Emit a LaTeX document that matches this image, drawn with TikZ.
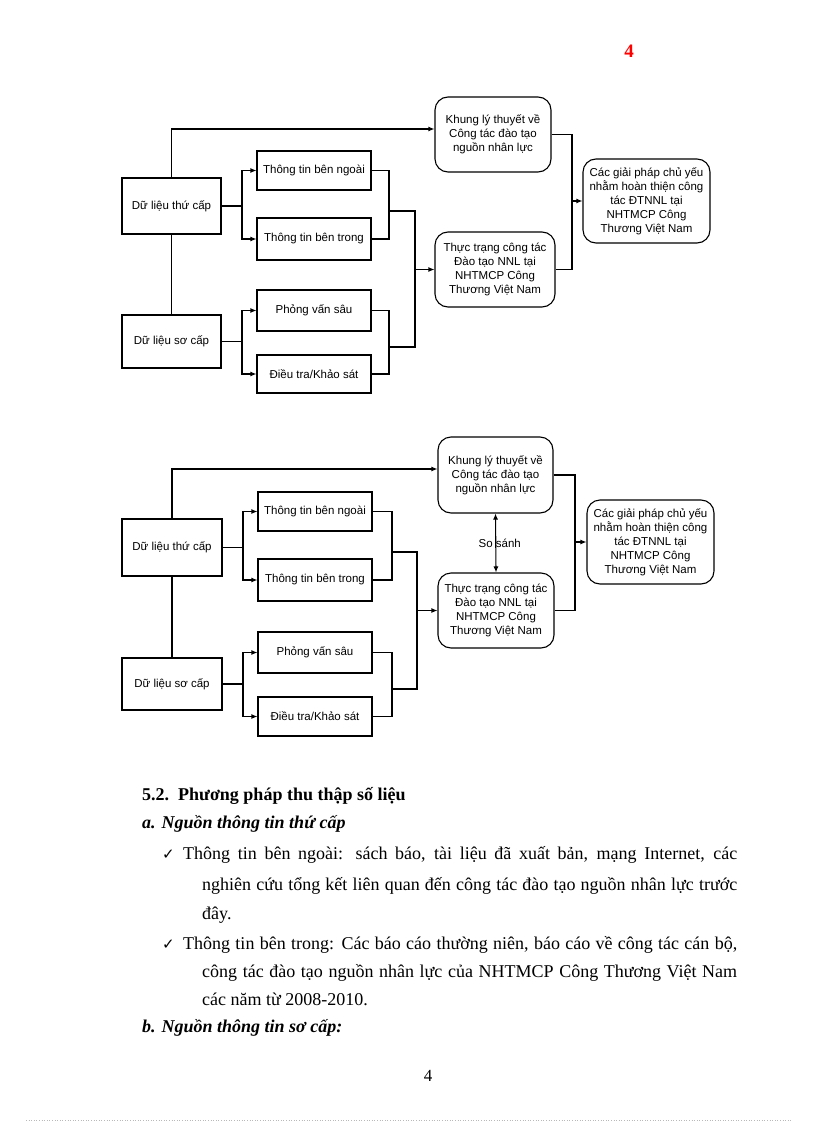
\documentclass[tikz,border=0pt]{standalone}
\usepackage{fontspec}
\setmainfont{Liberation Serif}
\newfontfamily\diagfont{Liberation Sans}
\newfontfamily\tickfont{DejaVu Sans}
\usetikzlibrary{arrows.meta}

\begin{document}
\begin{tikzpicture}[x=1pt,y=-1pt,
  box/.style={draw=black, line width=1.1pt, inner sep=0pt, align=center,
              font=\diagfont\fontsize{11.5}{14}\selectfont},
  rbox/.style={box, rounded corners=13pt},
  link/.style={line width=1.1pt},
  arr/.style={-{Latex[length=6pt,width=5pt]}},
  dbl/.style={{Latex[length=6pt,width=5pt]}-{Latex[length=6pt,width=5pt]}},
  body/.style={anchor=base west, inner sep=0pt, font=\fontsize{18}{22}\selectfont},
  head/.style={body, font=\bfseries\fontsize{18}{22}\selectfont},
  sub/.style={body, font=\bfseries\itshape\fontsize{18}{22}\selectfont},
  tick/.style={body, font=\tickfont\fontsize{15}{18}\selectfont}]

  \fill[white] (0,0) rectangle (816,1123);
  \useasboundingbox (0,0) rectangle (816,1123);

  % page number (red)
  \node[font=\bfseries\fontsize{19}{22}\selectfont, text=red] (numtop) at (629,51) {4};

  % first diagram
  \begin{scope}
  \node[box, minimum width=99pt, minimum height=56pt] (dltcA) at (171.5,206) {Dữ liệu thứ cấp};
  \node[box, minimum width=99pt, minimum height=53pt] (dlscA) at (171.5,341.5) {Dữ liệu sơ cấp};
  \node[box, minimum width=114pt, minimum height=39pt] (ttnA) at (314,170.5) {Thông tin bên ngoài};
  \node[box, minimum width=114pt, minimum height=42pt] (tttA) at (314,239) {Thông tin bên trong};
  \node[box, minimum width=114pt, minimum height=41pt] (pvsA) at (314,310.5) {Phỏng vấn sâu};
  \node[box, minimum width=114pt, minimum height=38pt] (dtksA) at (314,374) {Điều tra/Khảo sát};
  \node[rbox, minimum width=116pt, minimum height=75pt] (khungA) at (493,134.5)
        {Khung lý thuyết về\\Công tác đào tạo\\nguồn nhân lực};
  \node[rbox, minimum width=120pt, minimum height=75pt] (thuctrangA) at (495,269.5)
        {Thực trạng công tác\\Đào tạo NNL tại\\NHTMCP Công\\Thương Việt Nam};
  \node[rbox, minimum width=127pt, minimum height=84pt] (giaiphapA) at (646.5,201)
        {Các giải pháp chủ yếu\\nhằm hoàn thiện công\\tác ĐTNNL tại\\NHTMCP Công\\Thương Việt Nam};

  \coordinate (brA1) at (242,206);
  \coordinate (brA2) at (242,341.5);
  \coordinate (jA1) at (389,211);
  \coordinate (jA2) at (389,347);
  \coordinate (busA) at (415,269.5);
  \coordinate (outA) at (572,201);

  \draw[link, arr] (dltcA.north) |- ([yshift=5.5pt]khungA.west);
  \draw[link] (dltcA.south) -- (dlscA.north);
  \draw[link] (dltcA.east) -- (brA1);
  \draw[link, arr] (brA1) |- (ttnA.west);
  \draw[link, arr] (brA1) |- (tttA.west);
  \draw[link] (dlscA.east) -- (brA2);
  \draw[link, arr] (brA2) |- (pvsA.west);
  \draw[link, arr] (brA2) |- (dtksA.west);
  \draw[link] (ttnA.east) -| (jA1) |- (tttA.east);
  \draw[link] (pvsA.east) -| (jA2) |- (dtksA.east);
  \draw[link] (jA1) -| (busA) |- (jA2);
  \draw[link, arr] (busA) -- (thuctrangA.west);
  \draw[link] (khungA.east) -| (outA) |- (thuctrangA.east);
  \draw[link, arr] (outA) -- (giaiphapA.west);
  \end{scope}

  % second diagram
  \begin{scope}
  \node[box, minimum width=100pt, minimum height=57pt] (dltcB) at (172,547.5) {Dữ liệu thứ cấp};
  \node[box, minimum width=100pt, minimum height=52pt] (dlscB) at (172,684) {Dữ liệu sơ cấp};
  \node[box, minimum width=114pt, minimum height=39pt] (ttnB) at (315,511.5) {Thông tin bên ngoài};
  \node[box, minimum width=114pt, minimum height=42pt] (tttB) at (315,580) {Thông tin bên trong};
  \node[box, minimum width=114pt, minimum height=41pt] (pvsB) at (315,652.5) {Phỏng vấn sâu};
  \node[box, minimum width=114pt, minimum height=39pt] (dtksB) at (315,716.5) {Điều tra/Khảo sát};
  \node[rbox, minimum width=115pt, minimum height=76pt] (khungB) at (495.5,475)
        {Khung lý thuyết về\\Công tác đào tạo\\nguồn nhân lực};
  \node[rbox, minimum width=116pt, minimum height=75pt] (thuctrangB) at (496,610.5)
        {Thực trạng công tác\\Đào tạo NNL tại\\NHTMCP Công\\Thương Việt Nam};
  \node[rbox, minimum width=127pt, minimum height=84pt] (giaiphapB) at (650.5,542)
        {Các giải pháp chủ yếu\\nhằm hoàn thiện công\\tác ĐTNNL tại\\NHTMCP Công\\Thương Việt Nam};

  \coordinate (brB1) at (243,547.5);
  \coordinate (brB2) at (243,684);
  \coordinate (jB1) at (392,552);
  \coordinate (jB2) at (392,689);
  \coordinate (busB) at (417,610.5);
  \coordinate (outB) at (575,542);

  \draw[link, arr] (dltcB.north) |- ([yshift=6pt]khungB.west);
  \draw[link] (dltcB.south) -- (dlscB.north);
  \draw[link] (dltcB.east) -- (brB1);
  \draw[link, arr] (brB1) |- (ttnB.west);
  \draw[link, arr] (brB1) |- (tttB.west);
  \draw[link] (dlscB.east) -- (brB2);
  \draw[link, arr] (brB2) |- (pvsB.west);
  \draw[link, arr] (brB2) |- (dtksB.west);
  \draw[link] (ttnB.east) -| (jB1) |- (tttB.east);
  \draw[link] (pvsB.east) -| (jB2) |- (dtksB.east);
  \draw[link] (jB1) -| (busB) |- (jB2);
  \draw[link, arr] (busB) -- (thuctrangB.west);
  \draw[link] (khungB.east) -| (outB) |- (thuctrangB.east);
  \draw[link, arr] (outB) -- (giaiphapB.west);
  \draw[link, dbl] (khungB.south) -- node[xshift=4pt, font=\diagfont\fontsize{11.5}{14}\selectfont] (sosanh) {So sánh} (thuctrangB.north);
  \end{scope}

  % text below
  \node[head] (sec) at (142,800) {5.2.\ \ Phương pháp thu thập số liệu};
  \node[sub] (srcA) at (142,828) {a. Nguồn thông tin thứ cấp};
  \node[tick] (tickA) at (162,859) {✓};
  \node[body] (lineA1) at (183,859) {\makebox[554pt][s]{Thông tin bên ngoài: sách báo, tài liệu đã xuất bản, mạng Internet, các}};
  \node[body] (lineA2) at (202,890) {\makebox[535pt][s]{nghiên cứu tổng kết liên quan đến công tác đào tạo nguồn nhân lực trước}};
  \node[body] (lineA3) at (202,919) {đây.};
  \node[tick] (tickB) at (162,949) {✓};
  \node[body] (lineB1) at (183,949) {\makebox[554pt][s]{Thông tin bên trong: Các báo cáo thường niên, báo cáo về công tác cán bộ,}};
  \node[body] (lineB2) at (202,977) {\makebox[535pt][s]{công tác đào tạo nguồn nhân lực của NHTMCP Công Thương Việt Nam}};
  \node[body] (lineB3) at (202,1005) {các năm từ 2008-2010.};
  \node[sub] (srcB) at (142,1032) {b. Nguồn thông tin sơ cấp:};

  % page number and footer
  \node[font=\fontsize{17}{20}\selectfont] (numbot) at (428,1076) {4};
  \coordinate (footL) at (26,1120);
  \coordinate (footR) at (792,1120);
  \draw[gray!55, dotted, line width=0.6pt] (footL) -- (footR);
\end{tikzpicture}
\end{document}
